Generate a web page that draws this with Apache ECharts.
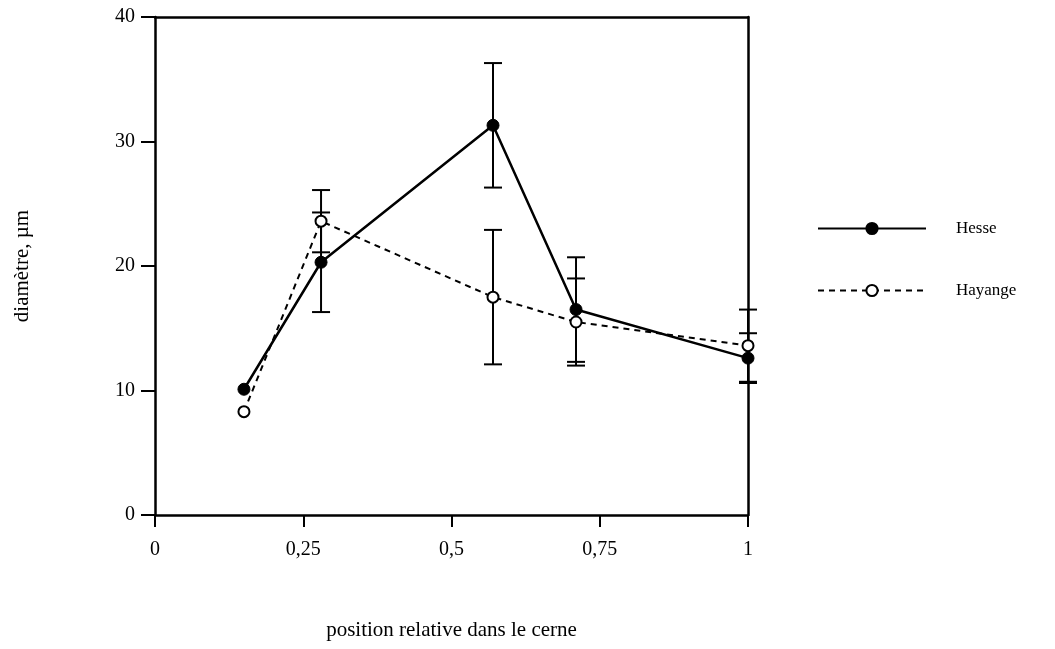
<!DOCTYPE html>
<html>
<head>
<meta charset="utf-8">
<script src="https://cdn.jsdelivr.net/npm/echarts@6/dist/echarts.min.js"></script>
<style>
  html, body { margin: 0; padding: 0; background: #fff; }
  #main { width: 1055px; height: 649px; }
</style>
</head>
<body>
<div id="main"></div>
<script>
var myChart = echarts.init(document.getElementById('main'));

// position relative dans le cerne
var positions = [0.15, 0.28, 0.57, 0.71, 1];
var hesse = [10.1, 20.3, 31.3, 16.5, 12.6];
var hesseErr = [0, 4.0, 5.0, 4.2, 2.0];
var hayange = [8.3, 23.6, 17.5, 15.5, 13.6];
var hayangeErr = [0, 2.5, 5.4, 3.5, 2.9];
var xTicks = ['0', '0,25', '0,5', '0,75', '1'];

var serif = 'Liberation Serif';

function pairs(xs, ys) {
  return xs.map(function (x, i) { return [x, ys[i]]; });
}

function errData(xs, ys, es) {
  var out = [];
  for (var i = 0; i < xs.length; i++) {
    if (es[i] > 0) out.push([xs[i], ys[i] - es[i], ys[i] + es[i]]);
  }
  return out;
}

var renderErr = function (params, api) {
  var lo = api.coord([api.value(0), api.value(1)]);
  var hi = api.coord([api.value(0), api.value(2)]);
  var w = 9;
  var st = { stroke: '#000', lineWidth: 2 };
  return {
    type: 'group',
    children: [
      { type: 'line', shape: { x1: lo[0], y1: lo[1], x2: hi[0], y2: hi[1] }, style: st },
      { type: 'line', shape: { x1: lo[0] - w, y1: lo[1], x2: lo[0] + w, y2: lo[1] }, style: st },
      { type: 'line', shape: { x1: hi[0] - w, y1: hi[1], x2: hi[0] + w, y2: hi[1] }, style: st }
    ]
  };
};

option = {
  animation: false,
  backgroundColor: '#fff',
  grid: { left: 155, right: 307, top: 17, bottom: 134 },
  legend: {
    orient: 'vertical',
    left: 817,
    top: 220,
    padding: 0,
    itemWidth: 108,
    itemHeight: 14,
    itemGap: 45,
    textStyle: { fontFamily: serif, fontSize: 17, color: '#000', padding: [0, 0, 0, 25] },
    data: ['Hesse', 'Hayange']
  },
  xAxis: [
    {
      type: 'value',
      min: 0,
      max: 1,
      interval: 0.25,
      name: 'position relative dans le cerne',
      nameLocation: 'middle',
      nameGap: 105,
      nameTextStyle: { fontFamily: serif, fontSize: 21, color: '#000' },
      axisLine: { show: true, lineStyle: { color: '#000', width: 2.5 } },
      axisTick: { show: true, inside: false, length: 12, lineStyle: { color: '#000', width: 2 } },
      axisLabel: {
        fontFamily: serif, fontSize: 20, color: '#000', margin: 25,
        formatter: function (v) { return xTicks[Math.round(v * 4)]; }
      },
      splitLine: { show: false }
    },
    {
      type: 'value',
      position: 'top',
      min: 0,
      max: 1,
      axisLine: { show: true, onZero: false, lineStyle: { color: '#000', width: 2.5 } },
      axisTick: { show: false },
      axisLabel: { show: false },
      splitLine: { show: false }
    }
  ],
  yAxis: [
    {
      type: 'value',
      min: 0,
      max: 40,
      interval: 10,
      name: 'diamètre, µm',
      nameLocation: 'middle',
      nameGap: 122,
      nameRotate: 90,
      nameTextStyle: { fontFamily: serif, fontSize: 21, color: '#000' },
      axisLine: { show: true, lineStyle: { color: '#000', width: 2.5 } },
      axisTick: { show: true, inside: false, length: 14, lineStyle: { color: '#000', width: 2 } },
      axisLabel: { fontFamily: serif, fontSize: 20, color: '#000', margin: 20 },
      splitLine: { show: false }
    },
    {
      type: 'value',
      position: 'right',
      min: 0,
      max: 40,
      axisLine: { show: true, onZero: false, lineStyle: { color: '#000', width: 2.5 } },
      axisTick: { show: false },
      axisLabel: { show: false },
      splitLine: { show: false }
    }
  ],
  series: [
    {
      name: 'HesseErr',
      type: 'custom',
      renderItem: renderErr,
      data: errData(positions, hesse, hesseErr),
      z: 1
    },
    {
      name: 'HayangeErr',
      type: 'custom',
      renderItem: renderErr,
      data: errData(positions, hayange, hayangeErr),
      z: 1
    },
    {
      name: 'Hayange',
      type: 'line',
      data: pairs(positions, hayange),
      symbol: 'circle',
      symbolSize: 11,
      showSymbol: true,
      lineStyle: { color: '#000', width: 2, type: [6, 5] },
      itemStyle: { color: '#fff', borderColor: '#000', borderWidth: 2 },
      z: 3
    },
    {
      name: 'Hesse',
      type: 'line',
      data: pairs(positions, hesse),
      symbol: 'circle',
      symbolSize: 12,
      showSymbol: true,
      lineStyle: { color: '#000', width: 2.5 },
      itemStyle: { color: '#000', borderColor: '#000', borderWidth: 1 },
      z: 4
    }
  ]
};

myChart.setOption(option);
</script>
</body>
</html>
